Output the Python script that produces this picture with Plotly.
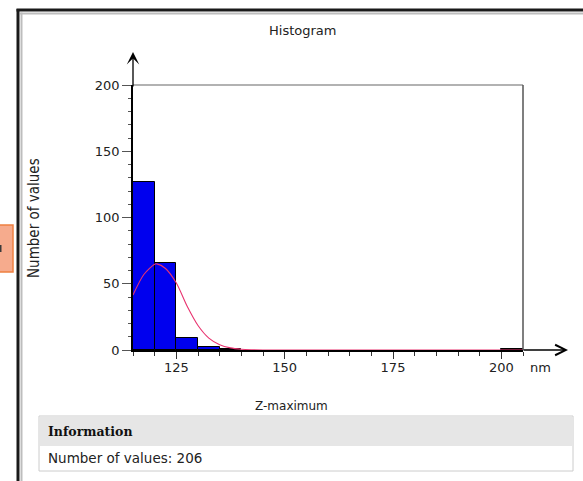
import plotly.graph_objects as go

# Histogram of Z-maximum values (nm), 5 nm bins
bin_start = [115, 120, 125, 130, 135, 140, 145, 150, 155, 160,
             165, 170, 175, 180, 185, 190, 195, 200]
bin_count = [127, 66, 9, 2, 1, 0, 0, 0, 0, 0,
             0, 0, 0, 0, 0, 0, 0, 1]
bin_width = 5

# Fitted distribution curve
fit_x = [115, 117.5, 120, 120.5, 122.5, 125, 127.5, 130, 132.5, 135,
         137.5, 140, 142.5, 145, 150, 205]
fit_y = [41.5, 57, 64.8, 65, 61.5, 50.5, 33, 18.5, 9, 4,
         1.6, 0.6, 0.2, 0, 0, 0]

x_ticks = [125, 150, 175, 200]
y_ticks = [0, 50, 100, 150, 200]
n_values = sum(bin_count)

W, H = 583, 481
L, R, T, B = 133, 60, 85, 131
PW, PH = W - L - R, H - T - B


def px(x):
    return (x - L) / PW


def py(y):
    return (H - B - y) / PH


FONT = "DejaVu Sans"


def label(text, x, y, size=13, family=FONT, color="#222222", xanchor="center", angle=0):
    return dict(text=text, xref="paper", yref="paper", x=px(x), y=py(y),
                xanchor=xanchor, yanchor="middle", showarrow=False, textangle=angle,
                font=dict(family=family, size=size, color=color))


fig = go.Figure()
fig.add_trace(go.Bar(
    x=[s + bin_width / 2 for s in bin_start],
    y=bin_count,
    width=bin_width,
    marker=dict(color="#0000ee",
                line=dict(color="#000000", width=[1 if c > 0 else 0 for c in bin_count])),
    hoverinfo="skip",
))
fig.add_trace(go.Scatter(
    x=fit_x, y=fit_y, mode="lines",
    line=dict(color="#e8336f", width=1.1, shape="spline", smoothing=0.8),
    cliponaxis=False, hoverinfo="skip",
))

shapes = []
# plot box: top and right edges
shapes.append(dict(type="line", xref="paper", yref="paper", x0=0, y0=1, x1=1, y1=1,
                   line=dict(color="#666666", width=1.2)))
shapes.append(dict(type="line", xref="paper", yref="paper", x0=1, y0=1, x1=1, y1=0,
                   line=dict(color="#555555", width=1.5)))
# window frame
shapes.append(dict(type="line", xref="paper", yref="paper", x0=px(18), y0=py(9), x1=px(18), y1=py(500),
                   line=dict(color="#1a1a1a", width=3)))
shapes.append(dict(type="line", xref="paper", yref="paper", x0=px(21.5), y0=py(12.5), x1=px(21.5), y1=py(500),
                   line=dict(color="#bdbdbd", width=2)))
shapes.append(dict(type="line", xref="paper", yref="paper", x0=px(16.5), y0=py(10), x1=px(600), y1=py(10),
                   line=dict(color="#1a1a1a", width=3)))
shapes.append(dict(type="line", xref="paper", yref="paper", x0=px(20), y0=py(13.5), x1=px(600), y1=py(13.5),
                   line=dict(color="#bdbdbd", width=2)))
# side tab
shapes.append(dict(type="rect", xref="paper", yref="paper", x0=px(-5), y0=py(225), x1=px(13), y1=py(272),
                   fillcolor="#f6ab8d", line=dict(color="#ee8040", width=1.5)))
shapes.append(dict(type="line", xref="paper", yref="paper", x0=px(0.5), y0=py(245), x1=px(0.5), y1=py(252),
                   line=dict(color="#3a3a3a", width=2)))
# information panel
shapes.append(dict(type="rect", xref="paper", yref="paper", x0=px(39), y0=py(416), x1=px(573), y1=py(471),
                   fillcolor="#ffffff", line=dict(color="#cccccc", width=1)))
shapes.append(dict(type="rect", xref="paper", yref="paper", x0=px(39.5), y0=py(416.5), x1=px(572.5), y1=py(446),
                   fillcolor="#e6e6e6", line=dict(width=0)))

annotations = [
    label("Histogram", 302, 30, size=13),
    label("Number of values", 34, 218, size=15, family="DejaVu Sans Condensed", angle=-90),
    label("Z-maximum", 291, 406, size=12),
    label("nm", 528, 367, size=13, xanchor="left"),
    label("<b>Information</b>", 46, 431, size=12.5, family="DejaVu Serif", color="#111111", xanchor="left"),
    label(f"Number of values: {n_values}", 46, 458, size=13.5, xanchor="left"),
    # axis arrows
    dict(text="", xref="paper", yref="paper", x=0, y=py(52), ax=0, ay=36,
         showarrow=True, arrowhead=3, arrowsize=1.6, arrowwidth=1.3, arrowcolor="#000000"),
    dict(text="", xref="paper", yref="paper", x=px(568), y=0, ax=-46, ay=0,
         showarrow=True, arrowhead=5, arrowsize=1.6, arrowwidth=1.3, arrowcolor="#000000"),
]

fig.update_layout(
    width=W, height=H,
    margin=dict(l=L, r=R, t=T, b=B, pad=0),
    paper_bgcolor="#ffffff", plot_bgcolor="#ffffff",
    showlegend=False, bargap=0,
    shapes=shapes, annotations=annotations,
    font=dict(family=FONT, size=13, color="#222222"),
)
fig.update_xaxes(
    range=[115, 205], tickvals=x_ticks, ticktext=[str(v) for v in x_ticks],
    ticks="outside", ticklen=7, tickcolor="#333333", tickwidth=1.2,
    minor=dict(dtick=5, tick0=115, ticks="outside", ticklen=4, tickcolor="#333333"),
    showline=True, linecolor="#000000", linewidth=1.5,
    showgrid=False, zeroline=False, fixedrange=True,
    ticklabelstandoff=-2,
    tickfont=dict(family=FONT, size=13, color="#222222"),
)
fig.update_yaxes(
    range=[0, 200], tickvals=y_ticks,
    ticks="outside", ticklen=9, tickcolor="#555555", tickwidth=1,
    minor=dict(dtick=10, ticks="outside", ticklen=3, tickcolor="#555555"),
    showline=True, linecolor="#000000", linewidth=1.5,
    showgrid=False, zeroline=False, fixedrange=True,
    tickfont=dict(family=FONT, size=13, color="#222222"),
)

fig.write_html("out.html", config={"displayModeBar": False})
